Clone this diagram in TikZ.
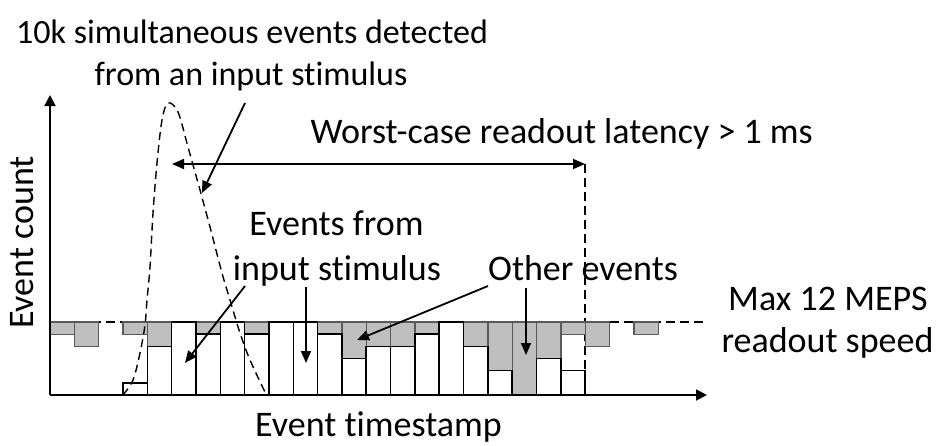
\documentclass[tikz,border=0pt]{standalone}
\usepackage{fontspec}
\setmainfont[Ligatures={NoCommon}]{Carlito}
\usetikzlibrary{arrows.meta}
\definecolor{evgray}{HTML}{BFBFBF}
\definecolor{evedge}{HTML}{5A5A5A}
\begin{document}
\begin{tikzpicture}[x=1pt,y=-1pt,
  lbl/.style={font=\fontsize{36}{42}\selectfont, anchor=base, inner sep=0pt},
  ttl/.style={font=\fontsize{34}{42}\selectfont, anchor=base, inner sep=0pt},
  arr/.style={line width=1.8pt, -{Triangle[length=12pt,width=10pt]}},
  darr/.style={line width=1.8pt, {Triangle[length=12pt,width=10pt]}-{Triangle[length=12pt,width=10pt]}},
  gbar/.style={fill=evgray, draw=evedge, line width=1.2pt},
  wbar/.style={fill=white, draw=black, line width=1.6pt},
  dsh/.style={line width=1.3pt, dash pattern=on 9pt off 5pt},
  dshc/.style={line width=1.4pt, dash pattern=on 8pt off 5pt}]
\useasboundingbox (0,0) rectangle (940,445);

% texts
\node[ttl] (t1) at (252,43) {10k simultaneous events detected};
\node[ttl] (t2) at (251,85) {from an input stimulus};
\node[lbl, anchor=base east] (lat) at (813,143) {Worst-case readout latency > 1 ms};
\node[lbl] (ev1) at (336.5,235) {Events from};
\node[lbl] (ev2) at (337,280) {input stimulus};
\node[lbl, anchor=base west] (oth) at (488,280) {Other events};
\node[lbl] (mx1) at (828,310) {Max 12 MEPS};
\node[lbl] (mx2) at (827.5,352) {readout speed};
\node[lbl] (xl) at (378.5,436) {Event timestamp};
\node[lbl, rotate=90] (yl) at (33,242.5) {Event count};

% max readout dashed line
\coordinate (m0) at (50,322);
\coordinate (m1) at (707,322);
\draw[dsh] (m0) -- (m1);

% latency end marker
\coordinate (la) at (172,164);
\coordinate (lb) at (585,164);
\coordinate (lc) at (585,371);
\draw[dsh] (lb) -- (lc);

% bars
\begin{scope}[shift={(50,322)}, x=24.33pt, y=-12.17pt]
\foreach \i/\g in {0/1,1/2,3/1,4/2,6/1,8/1,11/1,12/3,13/2,14/2,15/1,17/2,18/4,19/6,20/3,21/1,22/2,24/1}
  \draw[gbar] (\i,0) rectangle (\i+1,\g);
\foreach \i/\a in {3/5,4/2,5/0,6/1,7/0,8/1,9/0,10/0,11/1,12/3,13/2,14/2,15/1,16/0,17/2,18/4,20/3,21/4}
  \draw[wbar] (\i,\a) rectangle (\i+1,6);
\end{scope}

% axes
\coordinate (o) at (50,395);
\coordinate (ytip) at (50,95);
\coordinate (xtip) at (707,395);
\draw[line width=1.8pt, -{Triangle[length=11pt,width=11pt]}] (o) -- (ytip);
\draw[line width=1.8pt, -{Triangle[length=11pt,width=11pt]}] (o) -- (xtip);

% stimulus curve
\draw[dshc] plot[smooth, tension=0.55] coordinates {(123,395) (133,380) (140,353) (145,325) (147,300) (150,267) (153,213) (157,163) (162,120) (168,103) (178,112) (188,147) (200,190) (210,227) (222,273) (230,300) (240,333) (250,360) (265,392)};

% latency arrow
\draw[darr] (la) -- (lb);

% pointer arrows
\coordinate (a1s) at (245,103);
\coordinate (a1e) at (202,193);
\coordinate (a2s) at (245,286);
\coordinate (a2e) at (185,363);
\coordinate (a3s) at (306,287);
\coordinate (a3e) at (306,363);
\coordinate (a4s) at (488,286);
\coordinate (a4e) at (357,340);
\coordinate (a5s) at (526,288);
\coordinate (a5e) at (526,355);
\draw[arr] (a1s) -- (a1e);
\draw[arr] (a2s) -- (a2e);
\draw[arr] (a3s) -- (a3e);
\draw[arr] (a4s) -- (a4e);
\draw[arr] (a5s) -- (a5e);
\end{tikzpicture}
\end{document}
